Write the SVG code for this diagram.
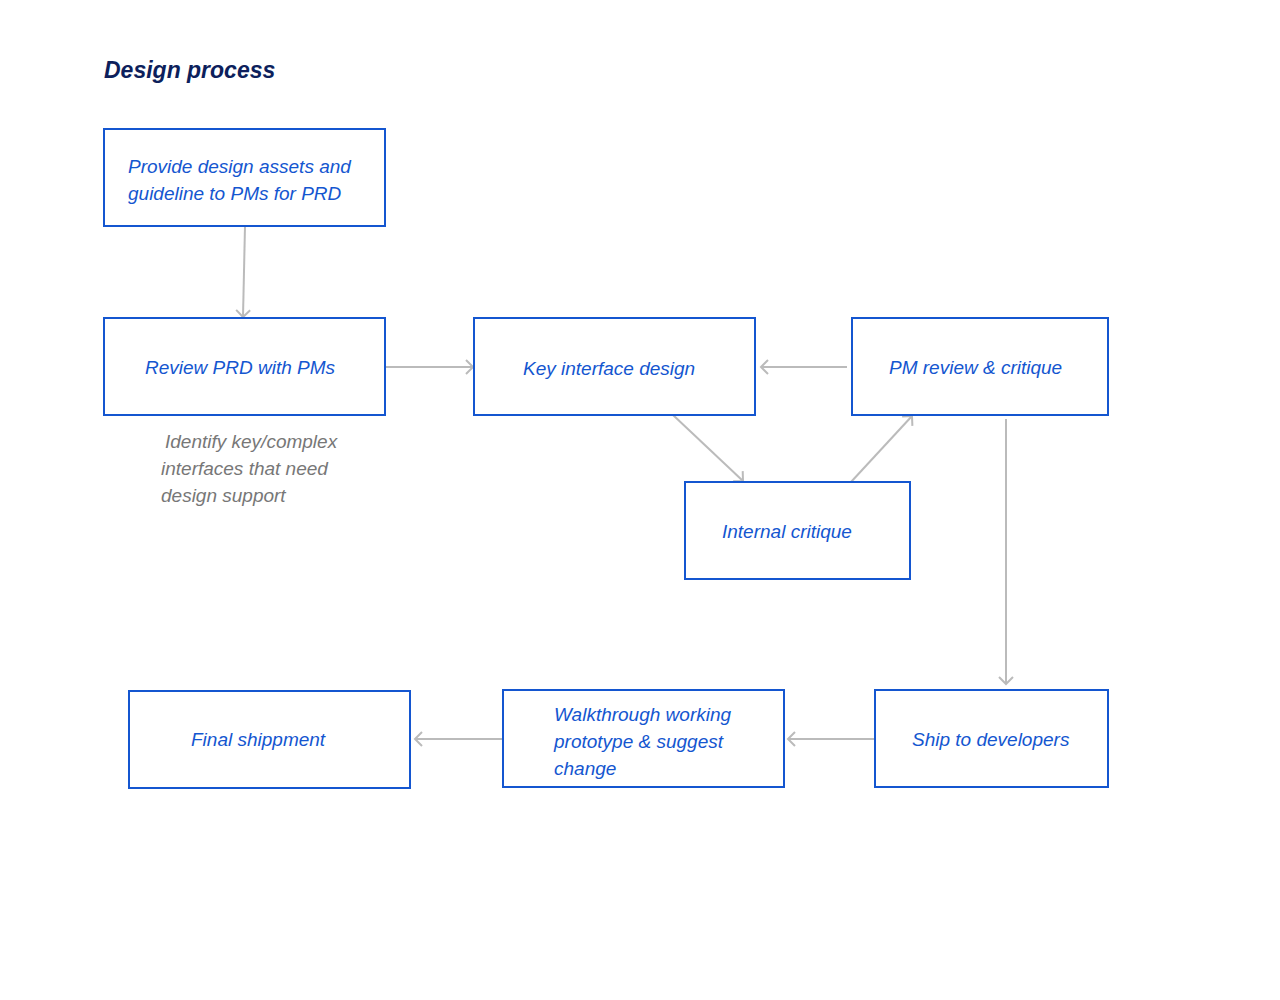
<svg xmlns="http://www.w3.org/2000/svg" width="1280" height="1000" viewBox="0 0 1280 1000">
<style>
.box{fill:#fff;stroke:#1456d0;stroke-width:2}
.lbl{font-family:"Liberation Sans",Arial,sans-serif;font-style:italic;font-size:19px;fill:#1456d0}
.note{font-family:"Liberation Sans",Arial,sans-serif;font-style:italic;font-size:19px;fill:#777}
.title{font-family:"Liberation Sans",Arial,sans-serif;font-style:italic;font-weight:bold;font-size:23px;fill:#0d1f5c}
.conn{stroke:#bbb;stroke-width:2;fill:none;marker-end:url(#arr)}
</style>
<defs>
<marker id="arr" markerUnits="userSpaceOnUse" markerWidth="18" markerHeight="18" viewBox="-10 -9 12 18" refX="0" refY="0" orient="auto">
<path d="M-7,-7 L0,0 L-7,7" fill="none" stroke="#bbb" stroke-width="2"/>
</marker>
</defs>
<rect width="1280" height="1000" fill="#fff"/>
<text class="title" x="104" y="78">Design process</text>
<g id="connectors">
<line class="conn" x1="245" y1="226" x2="243" y2="317"/>
<line class="conn" x1="386" y1="367" x2="473" y2="367"/>
<line class="conn" x1="847" y1="367" x2="761" y2="367"/>
<line class="conn" x1="673" y1="415" x2="743" y2="481"/>
<line class="conn" x1="851" y1="482" x2="912" y2="416"/>
<line class="conn" x1="1006" y1="419" x2="1006" y2="684"/>
<line class="conn" x1="875" y1="739" x2="788" y2="739"/>
<line class="conn" x1="503" y1="739" x2="415" y2="739"/>
</g>
<g id="n1"><rect class="box" x="104" y="129" width="281" height="97"/>
<text class="lbl" x="128" y="173">Provide design assets and</text>
<text class="lbl" x="128" y="200">guideline to PMs for PRD</text></g>
<g id="n2"><rect class="box" x="104" y="318" width="281" height="97"/>
<text class="lbl" x="145" y="374">Review PRD with PMs</text></g>
<g id="note"><text class="note" x="165" y="448"> Identify key/complex</text>
<text class="note" x="161" y="475">interfaces that need</text>
<text class="note" x="161" y="502">design support</text></g>
<g id="n3"><rect class="box" x="474" y="318" width="281" height="97"/>
<text class="lbl" x="523" y="375">Key interface design</text></g>
<g id="n4"><rect class="box" x="852" y="318" width="256" height="97"/>
<text class="lbl" x="889" y="374">PM review &amp; critique</text></g>
<g id="n5"><rect class="box" x="685" y="482" width="225" height="97"/>
<text class="lbl" x="722" y="538">Internal critique</text></g>
<g id="n6"><rect class="box" x="129" y="691" width="281" height="97"/>
<text class="lbl" x="191" y="746">Final shippment</text></g>
<g id="n7"><rect class="box" x="503" y="690" width="281" height="97"/>
<text class="lbl" x="554" y="721">Walkthrough working</text>
<text class="lbl" x="554" y="748">prototype &amp; suggest</text>
<text class="lbl" x="554" y="775">change</text></g>
<g id="n8"><rect class="box" x="875" y="690" width="233" height="97"/>
<text class="lbl" x="912" y="746">Ship to developers</text></g>
</svg>
